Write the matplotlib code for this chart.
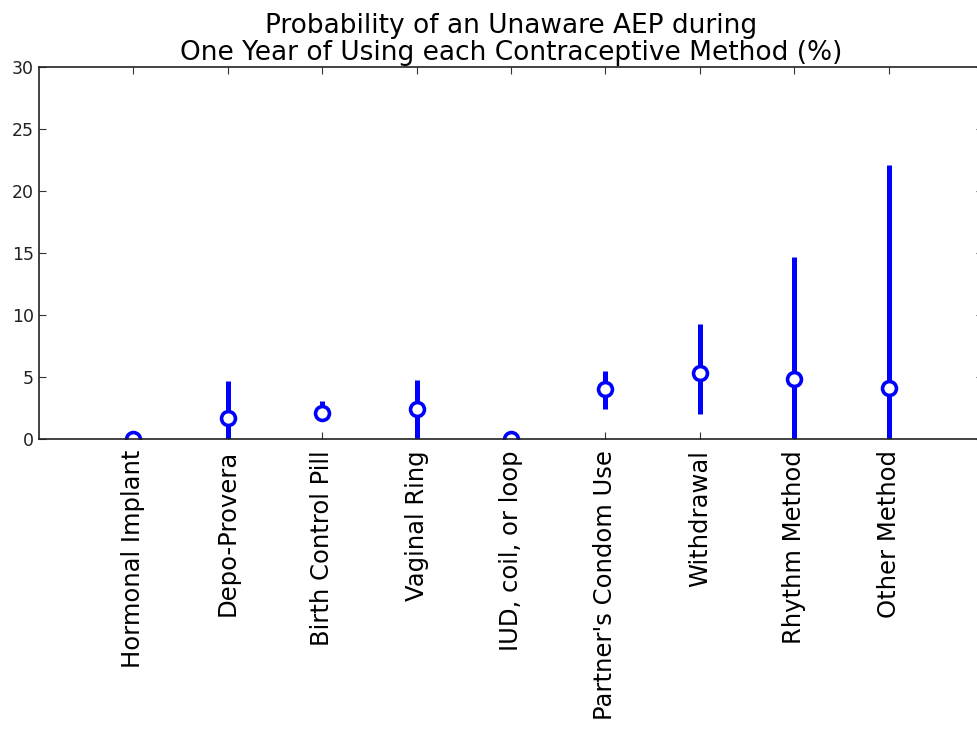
import matplotlib
matplotlib.use('Agg')
import matplotlib.pyplot as plt
import numpy as np

# Contraceptive methods and estimated probabilities (%)
methods = ['Hormonal Implant', 'Depo-Provera', 'Birth Control Pill', 'Vaginal Ring',
           'IUD, coil, or loop', "Partner's Condom Use", 'Withdrawal', 'Rhythm Method',
           'Other Method']
prob = np.array([0, 1.7, 2.1, 2.45, 0, 4.05, 5.35, 4.85, 4.1])
lower = np.array([0, 0, 1.7, 0, 0, 2.45, 2.0, 0, 0])
upper = np.array([0, 4.65, 3.05, 4.75, 0, 5.5, 9.3, 14.7, 22.1])
yticks = [0, 5, 10, 15, 20, 25, 30]

fig = plt.figure(figsize=(9.78, 7.29), dpi=100)
ax = fig.add_axes([39 / 978, 290 / 729, 944 / 978, 372 / 729])

x = np.arange(len(methods))
line, caps, bars = ax.errorbar(x, prob, yerr=[prob - lower, upper - prob], fmt='o',
                               color='#0000ff', ecolor='#0000ff', elinewidth=3.6,
                               markersize=10, markeredgewidth=2.6,
                               markerfacecolor='white', markeredgecolor='#0000ff',
                               capsize=0)
line.set_clip_on(True)

ax.set_xlim(-1, 9)
ax.set_ylim(0, 30)
ax.set_yticks(yticks)
ax.set_xticks(x)
ax.set_xticklabels(methods, rotation=90, fontsize=17.5)
ax.tick_params(axis='y', labelsize=12.5, labelcolor='#222222')
ax.tick_params(direction='in', top=True, right=True, length=5, width=0.8,
               color='#333333')
ax.tick_params(axis='x', pad=8)
for s in ax.spines.values():
    s.set_linewidth(1.2)
    s.set_color('#222222')

ax.set_title('Probability of an Unaware AEP during\nOne Year of Using each Contraceptive Method (%)',
             fontsize=19, pad=5, linespacing=1.05)

fig.savefig('out.png', dpi=100, facecolor='white')
